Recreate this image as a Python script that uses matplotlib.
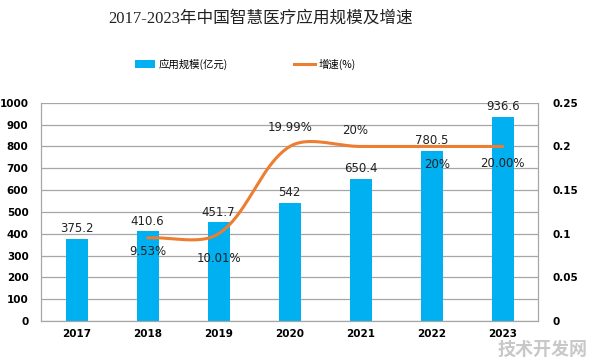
import numpy as np
import matplotlib
matplotlib.use('Agg')
import matplotlib.pyplot as plt
from matplotlib.patches import Patch
from matplotlib.lines import Line2D

plt.rcParams['font.family'] = ['DejaVu Sans', 'Noto Sans CJK SC']

years = ['2017', '2018', '2019', '2020', '2021', '2022', '2023']
scale = [375.2, 410.6, 451.7, 542, 650.4, 780.5, 936.6]
growth_years = ['2018', '2019', '2020', '2021', '2022', '2023']
growth = [0.0953, 0.1001, 0.1999, 0.20, 0.20, 0.20]
growth_labels = ['9.53%', '10.01%', '19.99%', '20%', '20%', '20.00%']

blue = '#00B0F0'
orange = '#ED7D31'


def smooth(xs, ys, kx=71.0, ky=872.0, n=40):
    # bezier smoothing, tangents weighted by on-screen segment length
    P = np.column_stack([np.asarray(xs, float) * kx, np.asarray(ys, float) * ky])
    m = len(P)
    px, py = [], []
    for i in range(m - 1):
        p0 = P[max(i - 1, 0)]
        p1, p2 = P[i], P[i + 1]
        p3 = P[min(i + 2, m - 1)]
        d01 = np.linalg.norm(p1 - p0)
        d12 = np.linalg.norm(p2 - p1)
        d23 = np.linalg.norm(p3 - p2)
        s = 1 / 3
        c1 = p1 + (p2 - p0) * s * (d12 / (d01 + d12) if d01 + d12 > 0 else 0)
        c2 = p2 - (p3 - p1) * s * (d12 / (d12 + d23) if d12 + d23 > 0 else 0)
        t = np.linspace(0, 1, n)[:, None]
        b = (1-t)**3*p1 + 3*(1-t)**2*t*c1 + 3*(1-t)*t**2*c2 + t**3*p2
        px.extend(b[:, 0] / kx)
        py.extend(b[:, 1] / ky)
    return px, py


fig = plt.figure(figsize=(5.96, 3.62), dpi=100)
ax = fig.add_axes([0.069, 0.113, 0.834, 0.603])
x = np.arange(len(years))

ax.bar(x, scale, width=0.31, color=blue, zorder=2)
for xi, v in zip(x, scale):
    ax.text(xi, v + 18, f'{v:g}', ha='center', va='bottom', fontsize=8.5, color='#222222')

ax.set_xlim(-0.5, len(years) - 0.5)
ax.set_ylim(0, 1000)
ax.set_yticks(range(0, 1001, 100))
ax.set_xticks(x)
ax.set_xticklabels(years)
ax.yaxis.grid(True, color='#A6A6A6', linewidth=0.9, zorder=0)
ax.set_axisbelow(True)
for s in ['left', 'right', 'top', 'bottom']:
    ax.spines[s].set_color('#A6A6A6')
ax.spines['top'].set_visible(False)
ax.tick_params(axis='both', length=0, labelsize=7.5, pad=6)
ax.tick_params(axis='y', pad=9)
for lab in ax.get_xticklabels() + ax.get_yticklabels():
    lab.set_fontweight('bold')

ax2 = ax.twinx()
gx = [years.index(y) for y in growth_years]
sx, sy = smooth(gx, growth)
ax2.plot(sx, sy, color=orange, linewidth=2.2, solid_capstyle='round', zorder=3)
ax2.set_ylim(0, 0.25)
ax2.set_yticks([0, 0.05, 0.1, 0.15, 0.2, 0.25])
ax2.set_yticklabels(['0', '0.05', '0.1', '0.15', '0.2', '0.25'])
ax2.tick_params(axis='y', length=0, labelsize=7.5, pad=10)
for lab in ax2.get_yticklabels():
    lab.set_fontweight('bold')
for s in ['left', 'right', 'top', 'bottom']:
    ax2.spines[s].set_color('#A6A6A6')
ax2.spines['top'].set_visible(False)

offsets = [-0.016, -0.028, 0.022, 0.018, -0.021, -0.019]
shifts = [0, 0, 0, -0.08, 0.07, 0]
for xi, g, lab, off, dx in zip(gx, growth, growth_labels, offsets, shifts):
    ax2.text(xi + dx, g + off, lab, ha='center', va='center', fontsize=8.5, color='#222222')

fig.text(0.438, 0.948, '2017-2023年中国智慧医疗应用规模及增速', ha='center', va='center',
         fontsize=12, family=['Liberation Serif', 'Noto Sans CJK SC'], color='#222222')

handles = [Patch(facecolor=blue), Line2D([0], [0], color=orange, linewidth=2.2)]
fig.legend(handles, ['应用规模(亿元)', '增速(%)'], loc='center left', bbox_to_anchor=(0.21, 0.823),
           ncol=2, frameon=False, columnspacing=6.4, handlelength=2.0, handletextpad=0.3,
           prop={'family': ['Noto Sans CJK SC', 'DejaVu Sans'], 'size': 7.5})

fig.text(0.985, 0.035, '技术开发网', ha='right', va='center', fontsize=13, fontweight='bold',
         color='#BBBBBB', family=['Noto Sans CJK SC'], alpha=0.8)

fig.savefig('out.png', dpi=100, facecolor='white')
